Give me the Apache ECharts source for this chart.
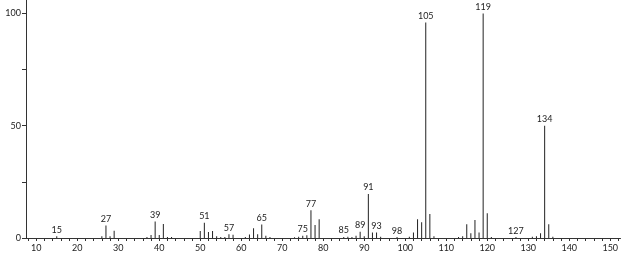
<!DOCTYPE html>
<html>
<head>
<meta charset="utf-8">
<script src="https://cdn.jsdelivr.net/npm/echarts@6/dist/echarts.min.js"></script>
<style>html,body{margin:0;padding:0;background:#fff}#c{width:623px;height:254px}</style>
</head>
<body>
<div id="c"></div>
<script>
var mz = [15,26,27,28,29,37,38,39,40,41,42,43,50,51,52,53,54,55,56,57,58,61,62,63,64,65,66,67,73,74,75,76,77,78,79,85,86,87,88,89,90,91,92,93,94,98,101,102,103,104,105,106,107,113,114,115,116,117,118,119,120,121,127,131,132,133,134,135,136];
var intensity = [0.8,0.8,5.6,0.8,3.2,0.5,1.3,7.4,1.3,6.2,0.5,0.5,3.1,6.8,2.7,3.1,0.8,0.5,0.5,1.7,1.4,0.5,1.6,4.3,1.7,6.0,1.0,0.5,0.3,0.6,1.0,1.2,12.4,5.8,8.3,0.5,0.6,0.5,1.0,2.8,0.8,19.6,2.4,2.4,0.6,0.4,0.6,2.4,8.4,7.0,96,10.7,0.8,0.5,0.8,6.1,2.1,8.0,2.4,100,11,0.5,0.4,0.6,0.8,2.1,50,6.1,0.6];
var labeledPeaks = [15,27,39,51,57,65,75,77,85,89,91,93,98,105,119,127,134];
var xTickValues = [8,10,12,14,16,18,20,22,24,26,28,30,32,34,36,38,40,42,44,46,48,50,52,54,56,58,60,62,64,66,68,70,72,74,76,78,80,82,84,86,88,90,92,94,96,98,100,102,104,106,108,110,112,114,116,118,120,122,124,126,128,130,132,134,136,138,140,142,144,146,148,150,152];
var xLabelValues = [10,20,30,40,50,60,70,80,90,100,110,120,130,140,150];
var yTickValues = [0,25,50,75,100];
var yLabelValues = [0,50,100];

var data = mz.map(function(m,i){
  var item = {value:[m,intensity[i]]};
  if (labeledPeaks.indexOf(m) >= 0) {
    item.label = {show:true, position:'top', distance:2, formatter:String(m)};
  }
  return item;
});

var font = 'Lato, "DejaVu Sans", sans-serif';
var chart = echarts.init(document.getElementById('c'), null, {renderer:'canvas'});
chart.setOption({
  animation:false,
  grid:{left:26, right:2.5, top:0, bottom:16, containLabel:false},
  xAxis:{
    type:'value', min:7.5, max:152.5,
    axisLine:{show:true, lineStyle:{color:'#333', width:1}},
    axisTick:{show:true, length:3, lineStyle:{color:'#333'}, customValues:xTickValues},
    axisLabel:{show:true, fontSize:9, color:'#222', fontFamily:font, margin:6, customValues:xLabelValues},
    splitLine:{show:false}
  },
  yAxis:{
    type:'value', min:0, max:106,
    axisLine:{show:true, lineStyle:{color:'#333', width:1}},
    axisTick:{show:true, length:4, lineStyle:{color:'#333'}, customValues:yTickValues},
    axisLabel:{show:true, fontSize:9, color:'#222', fontFamily:font, margin:5, customValues:yLabelValues},
    splitLine:{show:false}
  },
  series:[{
    type:'bar',
    barWidth:1,
    itemStyle:{color:'#222'},
    label:{show:false, fontSize:9, color:'#222', fontFamily:font},
    data:data
  }]
});
</script>
</body>
</html>
